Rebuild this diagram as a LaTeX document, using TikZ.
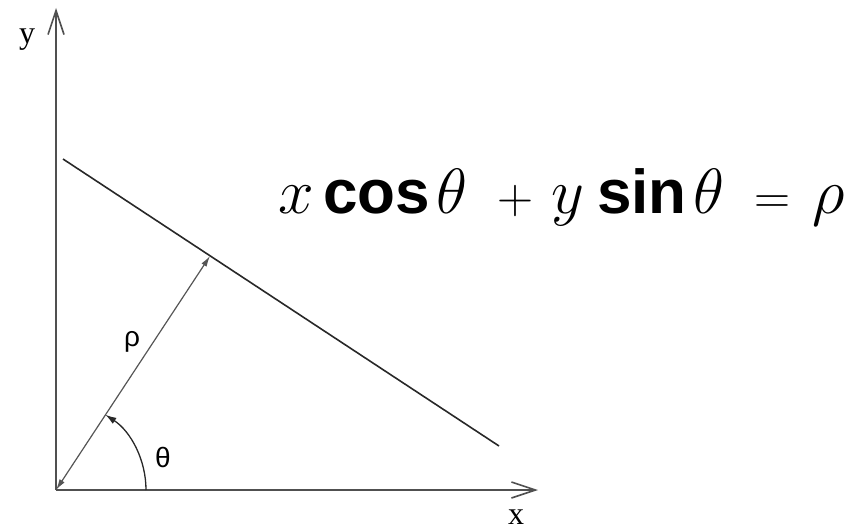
\RequirePackage{fix-cm}
\documentclass[tikz,border=0pt]{standalone}
\usepackage{fontspec}
\setmainfont{Liberation Serif}
\setsansfont{Liberation Sans}
\usetikzlibrary{arrows.meta,calc}
\definecolor{axisgray}{RGB}{80,80,80}
\definecolor{linegray}{RGB}{40,40,40}
\definecolor{rhogray}{RGB}{85,85,85}
\newcommand{\eqpart}[2]{\makebox[#1pt][l]{#2}}
\begin{document}
\begin{tikzpicture}[x=1pt,y=-1pt,
  axis/.style={draw=axisgray,line width=1.8pt,-{Straight Barb[length=24pt,width=16pt,line width=1.6pt]}},
  mainline/.style={draw=linegray,line width=1.6pt},
  rhoarrow/.style={draw=rhogray,line width=1.2pt,{Latex[length=11pt,width=6pt]}-{Latex[length=11pt,width=6pt]}},
  anglearc/.style={draw=linegray,line width=1.3pt,-{Latex[length=11pt,width=7pt]}},
  axlabel/.style={font=\fontsize{32}{32}\selectfont,inner sep=0pt},
  greeklabel/.style={font=\sffamily\fontsize{28}{28}\selectfont,inner sep=0pt}]
\useasboundingbox (0,0) rectangle (864,532);
\coordinate (O) at (56,490);
\coordinate (Ytop) at (56,8);
\coordinate (Xend) at (538,490);
\coordinate (L1) at (63,159);
\coordinate (L2) at (499,446);
\coordinate (F) at ($(L1)!(O)!(L2)$);
\coordinate (A0) at (146,490);
\draw[axis] (O) -- (Ytop);
\draw[axis] (O) -- (Xend);
\draw[mainline] (L1) -- (L2);
\draw[rhoarrow] (O) -- (F);
\draw[anglearc] (A0) arc[start angle=0,end angle=-56.7,radius=90];
\node[axlabel] (ylab) at (27,40) {y};
\node[axlabel] (xlab) at (516,517) {x};
\node[greeklabel] (rholab) at (132,342) {ρ};
\node[greeklabel] (thetalab) at (163,457) {θ};
\node[anchor=base west,inner sep=0pt] (eq) at (278,213) {\fontsize{64}{64}\selectfont
  \eqpart{45}{$x$}%
  \eqpart{113}{\fontsize{62}{62}\selectfont\bfseries\sffamily cos}%
  \eqpart{61}{$\theta$}%
  \eqpart{54}{\fontsize{50}{50}\selectfont$+$}%
  \eqpart{46}{$y$}%
  \eqpart{96}{\fontsize{62}{62}\selectfont\bfseries\sffamily sin}%
  \eqpart{61}{$\theta$}%
  \eqpart{58}{\fontsize{50}{50}\selectfont$=$}%
  $\rho$};
\end{tikzpicture}
\end{document}
